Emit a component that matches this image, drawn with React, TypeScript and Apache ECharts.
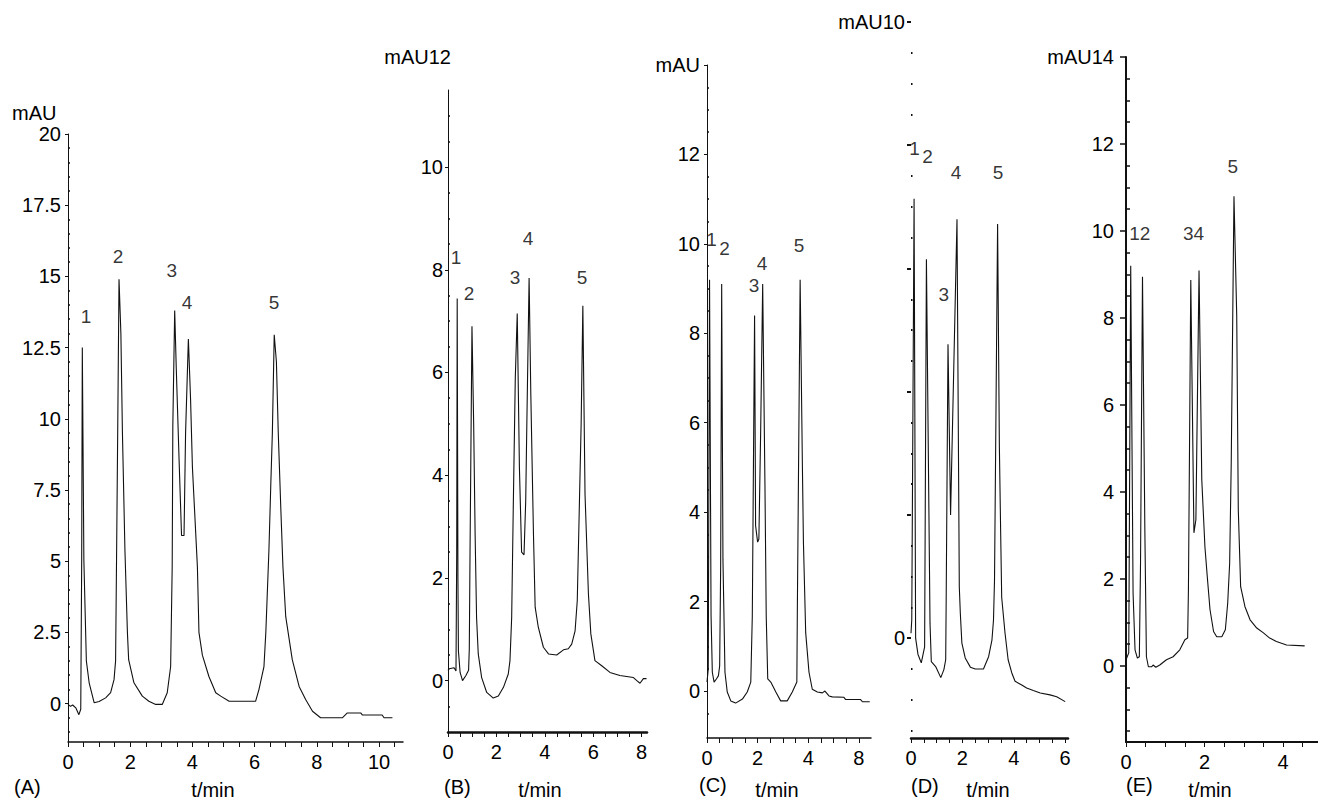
import React, { useEffect, useRef } from "react";
import * as echarts from "echarts";

// ---------- DATA (time in min, signal in mAU) ----------
const traceA: number[][] = [
  [0, -0.03], [0.08, -0.1], [0.15, -0.05], [0.25, -0.15], [0.35, -0.39], [0.41, -0.2], [0.44, 5.0], [0.46, 12.5],
  [0.51, 5.05], [0.59, 1.5], [0.68, 0.73], [0.84, 0.03], [1.0, 0.07], [1.21, 0.2], [1.37, 0.38], [1.48, 0.84],
  [1.53, 1.5], [1.56, 5.0], [1.6, 9.8], [1.64, 14.9], [1.7, 13.0], [1.75, 9.5], [1.83, 5.4], [1.91, 2.5],
  [1.95, 1.54], [2.12, 0.73], [2.39, 0.26], [2.6, 0.08], [2.82, -0.03], [3.03, -0.03], [3.19, 0.38], [3.3, 1.3],
  [3.35, 4.8], [3.37, 9.75], [3.43, 13.8], [3.48, 11.8], [3.57, 8.6], [3.65, 5.9], [3.73, 5.9], [3.78, 9.5],
  [3.87, 12.8], [3.94, 10.7], [4.0, 8.3], [4.16, 4.8], [4.21, 2.5], [4.32, 1.7], [4.53, 0.95], [4.75, 0.38],
  [4.91, 0.26], [5.18, 0.08], [6.03, 0.08], [6.14, 0.5], [6.3, 1.3], [6.36, 2.5], [6.46, 5.4], [6.52, 7.7],
  [6.57, 9.5], [6.63, 12.95], [6.7, 12.0], [6.76, 9.5], [6.84, 6.9], [6.91, 4.8], [7.0, 3.05], [7.21, 1.54],
  [7.43, 0.6], [7.64, 0.14], [7.86, -0.27], [8.12, -0.5], [8.82, -0.5], [8.98, -0.33], [9.41, -0.33], [9.46, -0.4],
  [10.1, -0.4], [10.16, -0.5], [10.43, -0.5],
];

const traceB: number[][] = [
  [0, 0.2], [0.05, 0.23], [0.25, 0.25], [0.33, 0.19], [0.36, 2.5], [0.38, 7.44], [0.41, 2.0], [0.43, 0.58],
  [0.5, 0.16], [0.6, 0.0], [0.74, 0.1], [0.85, 0.2], [0.88, 0.62], [0.91, 2.5], [0.99, 6.9], [1.06, 5.0],
  [1.12, 2.86], [1.18, 1.23], [1.25, 0.52], [1.39, 0.06], [1.6, -0.23], [1.87, -0.34], [2.08, -0.3], [2.29, -0.13],
  [2.49, 0.13], [2.56, 0.39], [2.63, 1.23], [2.7, 3.5], [2.78, 5.9], [2.86, 7.15], [2.95, 4.15], [3.04, 2.5],
  [3.14, 2.45], [3.21, 3.5], [3.25, 4.8], [3.35, 7.84], [3.42, 5.6], [3.46, 4.6], [3.53, 2.86], [3.6, 1.43],
  [3.73, 1.04], [3.94, 0.65], [4.15, 0.52], [4.49, 0.5], [4.77, 0.6], [4.97, 0.62], [5.11, 0.71], [5.25, 0.97],
  [5.34, 1.56], [5.43, 3.5], [5.5, 5.0], [5.57, 7.3], [5.66, 3.63], [5.8, 1.69], [5.9, 0.91], [6.07, 0.39],
  [6.35, 0.29], [6.69, 0.16], [7.1, 0.1], [7.66, 0.06], [7.8, 0.0], [7.93, -0.05], [8.07, 0.04], [8.2, 0.04],
];

const traceC: number[][] = [
  [0, 0.2], [0.05, 0.5], [0.1, 9.2], [0.16, 1.7], [0.21, 0.42], [0.28, 0.2], [0.37, 0.27], [0.45, 0.34],
  [0.5, 0.56], [0.54, 2.8], [0.58, 9.1], [0.63, 2.95], [0.71, 0.42], [0.8, -0.02], [0.94, -0.22], [1.13, -0.27],
  [1.4, -0.18], [1.59, -0.02], [1.73, 0.2], [1.79, 1.68], [1.88, 8.4], [1.92, 3.7], [2.0, 3.33], [2.05, 3.4],
  [2.12, 5.8], [2.2, 9.1], [2.29, 4.6], [2.34, 1.68], [2.4, 0.27], [2.52, 0.2], [2.72, -0.02], [2.91, -0.22],
  [3.17, -0.22], [3.37, -0.02], [3.55, 0.2], [3.57, 1.83], [3.68, 9.2], [3.77, 5.0], [3.81, 3.33], [3.9, 1.3],
  [4.03, 0.42], [4.16, 0.04], [4.36, -0.02], [4.56, -0.04], [4.66, 0.0], [4.82, -0.11], [4.95, -0.13], [5.41, -0.14],
  [5.48, -0.19], [6.07, -0.19], [6.14, -0.24], [6.43, -0.24],
];

const traceD: number[][] = [
  [0, 0.08], [0.03, 0.3], [0.12, 7.13], [0.18, 0.0], [0.27, -0.26], [0.4, -0.4], [0.53, -0.14], [0.6, 6.15],
  [0.74, 0.24], [0.79, -0.38], [0.96, -0.46], [1.16, -0.64], [1.28, -0.51], [1.35, -0.35], [1.37, 0.66], [1.44, 4.77],
  [1.54, 2.0], [1.79, 6.8], [1.88, 0.83], [1.92, 0.4], [1.98, -0.08], [2.11, -0.32], [2.31, -0.47], [2.5, -0.5],
  [2.82, -0.5], [3.02, -0.3], [3.15, -0.03], [3.21, 0.29], [3.25, 0.94], [3.37, 6.72], [3.44, 3.09], [3.49, 1.7],
  [3.53, 0.66], [3.66, 0.08], [3.78, -0.35], [3.92, -0.56], [4.05, -0.7], [4.31, -0.76], [4.5, -0.81], [4.76, -0.85],
  [5.03, -0.89], [5.41, -0.92], [5.67, -0.95], [6.0, -1.03],
];

const traceE: number[][] = [
  [0, 0.14], [0.07, 0.3], [0.12, 9.2], [0.18, 1.68], [0.23, 0.37], [0.29, 0.18], [0.34, 0.21], [0.37, 2.37],
  [0.42, 8.95], [0.48, 3.13], [0.52, 0.21], [0.57, -0.02], [0.65, -0.02], [0.69, 0.02], [0.76, -0.03], [0.86, 0.02],
  [1.03, 0.14], [1.2, 0.21], [1.37, 0.37], [1.5, 0.6], [1.57, 0.64], [1.59, 1.75], [1.65, 8.87], [1.73, 3.06],
  [1.78, 3.36], [1.86, 9.09], [1.93, 4.28], [2.01, 2.74], [2.07, 2.05], [2.14, 1.29], [2.23, 0.79], [2.31, 0.67],
  [2.44, 0.67], [2.53, 0.83], [2.59, 1.44], [2.64, 2.36], [2.68, 4.66], [2.75, 10.8], [2.82, 8.05], [2.86, 3.59],
  [2.92, 1.82], [3.03, 1.36], [3.16, 1.06], [3.33, 0.87], [3.5, 0.76], [3.66, 0.64], [3.83, 0.56], [4.09, 0.48],
  [4.55, 0.46],
];

// peak-number annotations: [time, signal, text]
const peaksA: (number | string)[][] = [[0.58, 13.6, "1"], [1.61, 15.7, "2"], [3.34, 15.2, "3"], [3.83, 14.1, "4"], [6.62, 14.1, "5"]];
const peaksB: (number | string)[][] = [[0.33, 8.23, "1"], [0.87, 7.54, "2"], [2.77, 7.84, "3"], [3.31, 8.6, "4"], [5.54, 7.84, "5"]];
const peaksC: (number | string)[][] = [[0.18, 10.1, "1"], [0.69, 9.89, "2"], [1.86, 9.08, "3"], [2.17, 9.57, "4"], [3.64, 9.96, "5"]];
const peaksD: (number | string)[][] = [[0.14, 7.95, "1"], [0.64, 7.81, "2"], [1.28, 5.57, "3"], [1.75, 7.55, "4"], [3.39, 7.55, "5"]];
const peaksE: (number | string)[][] = [[0.35, 9.95, "12"], [1.72, 9.95, "34"], [2.72, 11.49, "5"]];

// tick labels
const yLabelsA = [0, 2.5, 5, 7.5, 10, 12.5, 15, 17.5, 20];
const xLabelsA = [0, 2, 4, 6, 8, 10];
const yLabelsB = [0, 2, 4, 6, 8, 10];
const xLabelsB = [0, 2, 4, 6, 8];
const yLabelsC = [0, 2, 4, 6, 8, 10, 12, 14];
const xLabelsC = [0, 2, 4, 6];
const xLabelTextC = ["0", "2", "4", "8"];
const yLabelsD = [0, 10];
const yMajorD = [0, 2, 4, 6, 8, 10];
const xLabelsD = [0, 2, 4, 6];
const yLabelsE = [0, 2, 4, 6, 8, 10, 12, 14];
const xLabelsE = [0, 2, 4];

const FONT = '"Liberation Sans", Arial, Helvetica, sans-serif';
const FS = 20;
const INK = "#111";

function steps(from: number, to: number, step: number): number[] {
  const out: number[] = [];
  for (let v = from; v <= to + 1e-9; v += step) out.push(Math.round(v * 100) / 100);
  return out;
}
function without(a: number[], b: number[]) {
  return a.filter((v) => !b.some((w) => Math.abs(w - v) < 1e-6));
}

type Panel = {
  trace: number[][];
  peaks: (number | string)[][];
  grid: { left: number; top: number; width: number; height: number };
  xMin: number; xMax: number; xLabels: number[]; xTicks: number[]; xLineW: number;
  xFmt?: (v: number) => string;
  yMin: number; yMax: number; yLabels: number[]; yMajor: number[]; yMinor: number[];
  yLine: boolean; yLineW: number; yMargin: number; yMajorLen: number; yMajorW: number;
  yMinorLen: number; yMinorW: number;
  yFmt?: (v: number) => string;
};

const panels: Panel[] = [
  {
    trace: traceA, peaks: peaksA,
    grid: { left: 68, top: 134, width: 335, height: 608 },
    xMin: 0, xMax: 10.77, xLabels: xLabelsA, xTicks: steps(0, 10.5, 0.5), xLineW: 1.5,
    yMin: -1.35, yMax: 20, yLabels: yLabelsA, yMajor: yLabelsA, yMinor: without(steps(-1, 19.5, 0.5), yLabelsA),
    yLine: true, yLineW: 1, yMargin: 7, yMajorLen: 3, yMajorW: 1, yMinorLen: 2, yMinorW: 1.5,
  },
  {
    trace: traceB, peaks: peaksB,
    grid: { left: 448, top: 90, width: 199, height: 642 },
    xMin: 0, xMax: 8.22, xLabels: xLabelsB, xTicks: steps(0, 8, 0.5), xLineW: 2.5,
    yMin: -1, yMax: 11.5, yLabels: yLabelsB, yMajor: yLabelsB, yMinor: without(steps(-0.5, 11, 0.5), yLabelsB),
    yLine: true, yLineW: 1, yMargin: 5, yMajorLen: 3, yMajorW: 1, yMinorLen: 2, yMinorW: 1.5,
  },
  {
    trace: traceC, peaks: peaksC,
    grid: { left: 707, top: 65, width: 164, height: 673 },
    xMin: 0, xMax: 6.48, xLabels: xLabelsC, xTicks: steps(0, 6.5, 0.5), xLineW: 1.5,
    xFmt: (v) => xLabelTextC[xLabelsC.indexOf(v)] ?? String(v),
    yMin: -1.05, yMax: 14, yLabels: yLabelsC, yMajor: yLabelsC, yMinor: without(steps(-0.5, 13.5, 0.5), yLabelsC),
    yLine: true, yLineW: 1, yMargin: 7, yMajorLen: 3, yMajorW: 1, yMinorLen: 2, yMinorW: 1.5,
    yFmt: (v) => (v === 14 ? "mAU" : String(v)),
  },
  {
    trace: traceD, peaks: peaksD,
    grid: { left: 911, top: 22, width: 157, height: 716 },
    xMin: 0, xMax: 6.11, xLabels: xLabelsD, xTicks: steps(0, 6, 0.5), xLineW: 2.5,
    yMin: -1.62, yMax: 10, yLabels: yLabelsD, yMajor: yMajorD, yMinor: without(steps(-1.5, 9.5, 0.5), yMajorD),
    yLine: false, yLineW: 1, yMargin: 6, yMajorLen: 4, yMajorW: 2, yMinorLen: 1.5, yMinorW: 2,
    yFmt: (v) => (v === 10 ? "mAU10" : String(v)),
  },
  {
    trace: traceE, peaks: peaksE,
    grid: { left: 1126, top: 57, width: 192, height: 685 },
    xMin: 0, xMax: 4.89, xLabels: xLabelsE, xTicks: steps(0, 4.5, 0.5), xLineW: 2,
    yMin: -1.75, yMax: 14, yLabels: yLabelsE, yMajor: yLabelsE, yMinor: without(steps(-1.5, 13.5, 0.5), yLabelsE),
    yLine: true, yLineW: 2, yMargin: 12, yMajorLen: 6, yMajorW: 1.5, yMinorLen: 4, yMinorW: 1.5,
    yFmt: (v) => (v === 14 ? "mAU14" : String(v)),
  },
];

function buildOption() {
  const grid: any[] = [];
  const xAxis: any[] = [];
  const yAxis: any[] = [];
  const series: any[] = [];
  panels.forEach((p, i) => {
    grid.push({ ...p.grid, containLabel: false });
    xAxis.push({
      type: "value", gridIndex: i, min: p.xMin, max: p.xMax,
      axisLine: { show: true, onZero: false, lineStyle: { color: INK, width: p.xLineW } },
      axisTick: { show: true, customValues: p.xTicks, length: 5, lineStyle: { color: INK, width: 1 } },
      axisLabel: {
        show: true, customValues: p.xLabels, fontSize: FS, fontFamily: FONT, color: "#000", margin: 10,
        formatter: p.xFmt ? (v: number) => p.xFmt!(v) : (v: number) => String(v),
      },
      splitLine: { show: false },
    });
    yAxis.push({
      type: "value", gridIndex: i, min: p.yMin, max: p.yMax,
      axisLine: { show: p.yLine, onZero: false, lineStyle: { color: INK, width: p.yLineW } },
      axisTick: { show: true, customValues: p.yMajor, length: p.yMajorLen, lineStyle: { color: INK, width: p.yMajorW } },
      axisLabel: {
        show: true, customValues: p.yLabels, fontSize: FS, fontFamily: FONT, color: "#000", margin: p.yMargin,
        formatter: p.yFmt ? (v: number) => p.yFmt!(v) : (v: number) => String(v),
      },
      splitLine: { show: false },
    });
    yAxis.push({
      type: "value", gridIndex: i, min: p.yMin, max: p.yMax,
      axisLine: { show: false },
      axisTick: { show: true, customValues: p.yMinor, length: p.yMinorLen, lineStyle: { color: INK, width: p.yMinorW } },
      axisLabel: { show: false },
      splitLine: { show: false },
    });
    series.push({
      type: "line", xAxisIndex: i, yAxisIndex: 2 * i, data: p.trace,
      symbol: "none", showSymbol: false, silent: true,
      lineStyle: { color: INK, width: 1.1 },
    });
    series.push({
      type: "scatter", xAxisIndex: i, yAxisIndex: 2 * i, symbolSize: 0, silent: true,
      data: p.peaks.map((q) => ({ value: [q[0], q[1]], name: String(q[2]) })),
      label: { show: true, position: "inside", formatter: "{b}", fontSize: 19, fontFamily: FONT, color: "#000" },
    });
  });

  const txt = (x: number, y: number, text: string, align: string) => ({
    type: "text", x, y, silent: true,
    style: { text, fill: "#000", font: `${FS}px ${FONT}`, align, verticalAlign: "middle" },
  });
  const graphic = [
    txt(12, 113, "mAU", "left"),
    txt(451, 57, "mAU12", "right"),
    txt(14, 787, "(A)", "left"), txt(213, 790, "t/min", "center"),
    txt(444, 787, "(B)", "left"), txt(540, 790, "t/min", "center"),
    txt(699, 785, "(C)", "left"), txt(777, 790, "t/min", "center"),
    txt(911, 786, "(D)", "left"), txt(988, 790, "t/min", "center"),
    txt(1126, 785, "(E)", "left"), txt(1210, 790, "t/min", "center"),
  ];

  return { animation: false, backgroundColor: "#fff", grid, xAxis, yAxis, series, graphic };
}

export default function App() {
  const ref = useRef<HTMLDivElement>(null);
  useEffect(() => {
    if (!ref.current) return;
    const chart = echarts.init(ref.current, undefined, { renderer: "svg" });
    chart.setOption(buildOption() as any);
    return () => chart.dispose();
  }, []);
  return (
    <div
      ref={ref}
      style={{ position: "fixed", left: 0, top: 0, width: 1318, height: 803, background: "#fff" }}
    />
  );
}
